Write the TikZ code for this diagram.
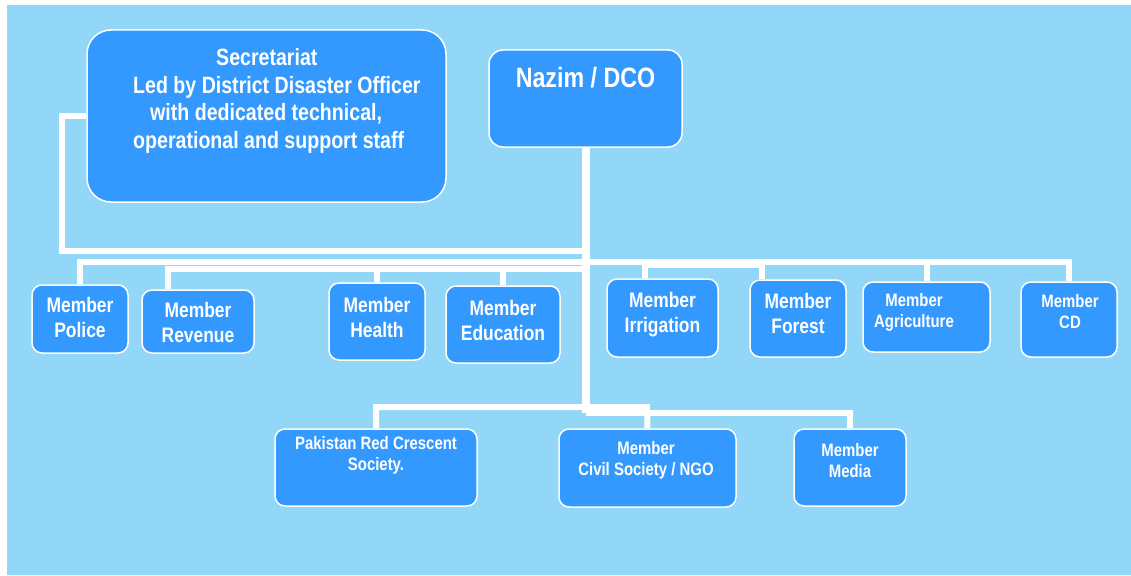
\documentclass[tikz,border=0pt]{standalone}
\usepackage{fontspec}
\setmainfont{Liberation Sans}[FakeStretch=0.83]
\usetikzlibrary{positioning}

\definecolor{skyback}{RGB}{146,215,247}
\definecolor{boxblue}{RGB}{51,153,255}

\tikzset{
  orgbox/.style={draw=white, line width=1.5pt, fill=boxblue, rounded corners=10pt, inner sep=0pt},
  orgtext/.style={text=white, font=\bfseries\fontsize{21}{25}\selectfont, align=center, inner sep=0pt},
  smalltext/.style={orgtext, font=\bfseries\fontsize{18}{21}\selectfont},
  wire/.style={white, line width=6pt},
}

\begin{document}
\begin{tikzpicture}[x=1pt,y=-1pt]
\useasboundingbox (0,0) rectangle (1131,575);
\fill[skyback] (7,5) rectangle (1131,575);

% top boxes
\node[orgbox, rounded corners=24pt, minimum width=359pt, minimum height=172pt] (sec) at (266.5,116) {};
\node[orgtext, font=\bfseries\fontsize{23.6}{27.5}\selectfont, align=left, anchor=west] (sec-t) at (133,101)
  {\hspace*{83pt}Secretariat\\ Led by District Disaster Officer\\ \hspace*{17pt}with dedicated technical,\\ operational and support staff};

\node[orgbox, rounded corners=14pt, minimum width=193pt, minimum height=97pt] (naz) at (585.5,98.5) {};
\node[orgtext, font=\bfseries\fontsize{28}{32}\selectfont] (naz-t) at (585.5,78) {Nazim / DCO};

% member row
\node[orgbox, minimum width=96pt, minimum height=68pt] (pol) at (80,319) {};
\node[orgtext] (pol-t) at (80,317.5) {Member\\Police};

\node[orgbox, minimum width=112pt, minimum height=63pt] (rev) at (198,321.5) {};
\node[orgtext] (rev-t) at (198,322.5) {Member\\Revenue};

\node[orgbox, minimum width=96pt, minimum height=77pt] (hea) at (377,321.5) {};
\node[orgtext] (hea-t) at (377,317.5) {Member\\Health};

\node[orgbox, minimum width=114pt, minimum height=77pt] (edu) at (503,324.5) {};
\node[orgtext] (edu-t) at (503,320.5) {Member\\Education};

\node[orgbox, minimum width=111pt, minimum height=78pt] (irr) at (662.5,318) {};
\node[orgtext] (irr-t) at (662.5,314.5) {Member\\Irrigation};

\node[orgbox, minimum width=96pt, minimum height=77pt] (for) at (798,318.5) {};
\node[orgtext] (for-t) at (798,313.5) {Member\\Forest};

\node[orgbox, minimum width=127pt, minimum height=70pt] (agr) at (926.5,317) {};
\node[smalltext] (agr-t) at (914,312.5) {Member\\Agriculture};

\node[orgbox, minimum width=96pt, minimum height=75pt] (cd) at (1069,319.5) {};
\node[smalltext] (cd-t) at (1070,311.5) {Member\\CD};

% lower row
\node[orgbox, minimum width=202pt, minimum height=77pt] (prc) at (376,467.5) {};
\node[smalltext] (prc-t) at (376,455.5) {Pakistan Red Crescent\\Society.};

\node[orgbox, minimum width=177pt, minimum height=78pt] (ngo) at (647.5,468) {};
\node[smalltext] (ngo-t) at (646,460.5) {Member\\Civil Society / NGO};

\node[orgbox, minimum width=112pt, minimum height=77pt] (med) at (850,467.5) {};
\node[smalltext] (med-t) at (850,460.5) {Member\\Media};

% bus points
\coordinate (busA) at (588,251);
\coordinate (busB) at (588,262);
\coordinate (busC) at (588,269);
\coordinate (busD) at (645,265);
\coordinate (lowA) at (647,407);
\coordinate (lowB) at (585.5,413);

% secretariat link and trunk
\draw[wire] (sec.west) -- ++(-24,0) |- (busA);
\draw[wire, line width=8pt] (naz.south) -- (lowB);

% upper lines
\draw[wire] (pol.north) |- (busB) -| (cd.north);
\draw[wire] ([xshift=-30pt]rev.north) |- (busC);
\draw[wire] (hea.north) -- (hea.north |- busC);
\draw[wire] (edu.north) -- (edu.north |- busC);
\draw[wire] ([xshift=-17.5pt]irr.north) -- (busD) -| ([xshift=-36pt]for.north);
\draw[wire] (agr.north) -- (agr.north |- busB);

% lower lines
\draw[wire] (prc.north) |- (lowA) -- (ngo.north);
\draw[wire] (lowB) -| (med.north);

\end{tikzpicture}
\end{document}
